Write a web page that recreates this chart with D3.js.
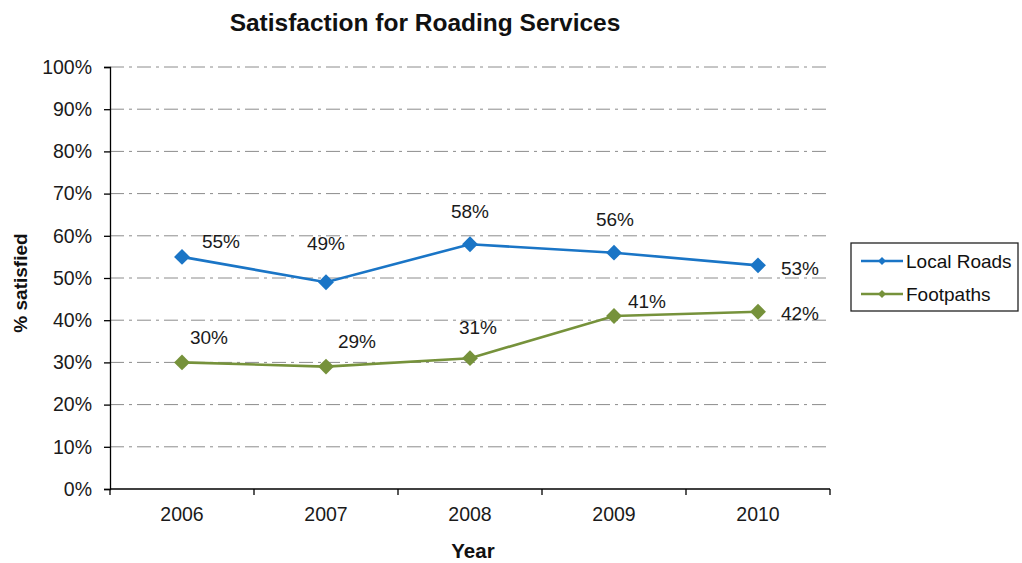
<!DOCTYPE html>
<html>
<head>
<meta charset="utf-8">
<script src="https://cdn.jsdelivr.net/npm/d3@7"></script>
<style>
  html, body { margin: 0; padding: 0; background: #fff; }
  svg { display: block; font-family: Arial, "Liberation Sans", sans-serif; }
</style>
</head>
<body>
<svg id="chart" width="1022" height="563"></svg>
<script>
const years = ["2006", "2007", "2008", "2009", "2010"];
const localRoads = [55, 49, 58, 56, 53];
const footpaths = [30, 29, 31, 41, 42];
const yTicks = [0, 10, 20, 30, 40, 50, 60, 70, 80, 90, 100];
const seriesNames = ["Local Roads", "Footpaths"];
const seriesColors = ["#1a75c6", "#76923b"];
// label centre offsets (dx, dy) from each point
const labelOffsets = [
  [[39, -16], [0, -39], [0, -33], [1, -34], [42, 3]],
  [[27, -25], [31, -26], [8, -31], [33, -15], [42, 1]]
];

const svg = d3.select("#chart");
const margin = { left: 110, right: 192, top: 67, bottom: 74 };
const W = 1022, H = 563;

const x = d3.scaleBand().domain(years).range([margin.left, W - margin.right]);
const y = d3.scaleLinear().domain([0, 100]).range([H - margin.bottom, margin.top]);

// gridlines
svg.append("g").selectAll("line")
  .data(yTicks.filter(d => d > 0))
  .join("line")
  .attr("x1", margin.left).attr("x2", W - margin.right)
  .attr("y1", d => y(d)).attr("y2", d => y(d))
  .attr("stroke", "#8c8c8c").attr("stroke-width", 1)
  .attr("stroke-dasharray", "14,5,3,5");

// y axis
const yAxis = svg.append("g")
  .attr("transform", `translate(${margin.left},0)`)
  .call(d3.axisLeft(y).tickValues(yTicks).tickFormat(d => d + "%").tickSize(6).tickPadding(12));
yAxis.select(".domain").attr("stroke", "#000").attr("stroke-width", 1.3);
yAxis.selectAll(".tick line").attr("stroke", "#000").attr("stroke-width", 1.3);
yAxis.selectAll("text").attr("font-size", 19.5).attr("fill", "#1a1a1a")
  .attr("font-family", "Arial, 'Liberation Sans', sans-serif");

// x axis with ticks at band boundaries
const xAxisG = svg.append("g").attr("transform", `translate(0,${y(0)})`);
xAxisG.append("line")
  .attr("x1", margin.left).attr("x2", W - margin.right)
  .attr("stroke", "#000").attr("stroke-width", 1.3);
const bounds = years.map(d => x(d)).concat([x(years[years.length - 1]) + x.bandwidth()]);
xAxisG.selectAll("line.tk").data(bounds).join("line").attr("class", "tk")
  .attr("x1", d => d).attr("x2", d => d).attr("y1", 0).attr("y2", 6)
  .attr("stroke", "#000").attr("stroke-width", 1.3);
xAxisG.selectAll("text").data(years).join("text")
  .attr("x", d => x(d) + x.bandwidth() / 2).attr("y", 32)
  .attr("text-anchor", "middle").attr("font-size", 19.5).attr("fill", "#1a1a1a")
  .text(d => d);

// title and axis titles
svg.append("text").attr("x", 425).attr("y", 31).attr("text-anchor", "middle")
  .attr("font-size", 24.5).attr("font-weight", "bold").attr("fill", "#111")
  .text("Satisfaction for Roading Services");
svg.append("text").attr("x", 473).attr("y", 558).attr("text-anchor", "middle")
  .attr("font-size", 20.5).attr("font-weight", "bold").attr("fill", "#111")
  .text("Year");
svg.append("text").attr("transform", `translate(27,${y(50) + 5}) rotate(-90)`)
  .attr("text-anchor", "middle").attr("font-size", 19).attr("font-weight", "bold").attr("fill", "#111")
  .text("% satisfied");

// series
const series = [localRoads, footpaths];
const line = d3.line().x((d, i) => x(years[i]) + x.bandwidth() / 2).y(d => y(d));
const diamond = d3.symbol().type(d3.symbolDiamond2).size(160);

series.forEach((vals, si) => {
  const g = svg.append("g");
  g.append("path").datum(vals).attr("d", line)
    .attr("fill", "none").attr("stroke", seriesColors[si]).attr("stroke-width", 2.6);
  g.selectAll("path.m").data(vals).join("path").attr("class", "m")
    .attr("d", diamond)
    .attr("transform", (d, i) => `translate(${x(years[i]) + x.bandwidth() / 2},${y(d)})`)
    .attr("fill", seriesColors[si]);
  g.selectAll("text").data(vals).join("text")
    .attr("x", (d, i) => x(years[i]) + x.bandwidth() / 2 + labelOffsets[si][i][0])
    .attr("y", (d, i) => y(d) + labelOffsets[si][i][1] + 7)
    .attr("text-anchor", "middle").attr("font-size", 19).attr("fill", "#1a1a1a")
    .text(d => d + "%");
});

// legend
const lg = svg.append("g").attr("transform", "translate(851,243)");
lg.append("rect").attr("width", 167).attr("height", 68)
  .attr("fill", "#fff").attr("stroke", "#222").attr("stroke-width", 1.3);
seriesNames.forEach((name, i) => {
  const cy = 18 + i * 33;
  lg.append("line").attr("x1", 10).attr("x2", 52).attr("y1", cy).attr("y2", cy)
    .attr("stroke", seriesColors[i]).attr("stroke-width", 2.6);
  lg.append("path").attr("d", d3.symbol().type(d3.symbolDiamond2).size(40))
    .attr("transform", `translate(31,${cy})`).attr("fill", seriesColors[i]);
  lg.append("text").attr("x", 55).attr("y", cy + 7).attr("font-size", 19).attr("fill", "#111")
    .text(name);
});
</script>
</body>
</html>
